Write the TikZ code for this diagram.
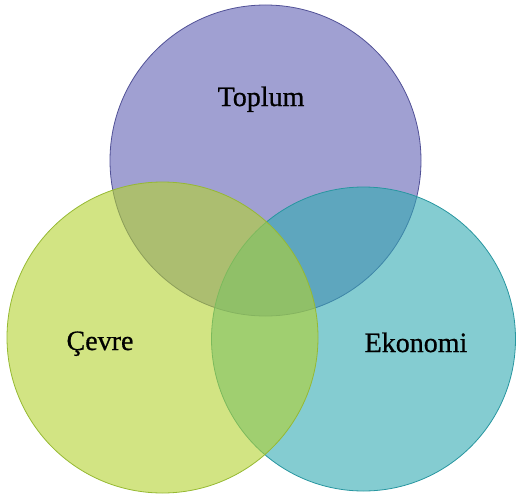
\documentclass[tikz,border=0pt]{standalone}
\usepackage{fontspec}
\setmainfont{Liberation Serif}
\newfontfamily\vennfont[FakeBold=0.7]{Liberation Serif}
\definecolor{toplumfill}{RGB}{97,97,180}
\definecolor{toplumline}{RGB}{80,80,150}
\definecolor{cevrefill}{RGB}{180,210,48}
\definecolor{cevreline}{RGB}{150,185,50}
\definecolor{ekonomifill}{RGB}{50,170,178}
\definecolor{ekonomiline}{RGB}{40,150,160}
\tikzset{
  venn/.style={circle, inner sep=0pt, line width=0.8pt, fill opacity=0.6},
  lbl/.style={anchor=base, font=\vennfont\fontsize{28}{30}\selectfont, text=black}
}
\begin{document}
\begin{tikzpicture}
\useasboundingbox (0,0) rectangle (516pt,-495pt);
% the three sets
\node [venn, minimum size=311pt, fill=toplumfill, draw=toplumline] (ctop) at (265.5pt,-160.5pt) {};
\node [venn, minimum size=304pt, fill=ekonomifill, draw=ekonomiline] (cright) at (363.5pt,-339pt) {};
\node [venn, minimum size=311pt, fill=cevrefill, draw=cevreline] (cleft) at (162.5pt,-337.5pt) {};
% labels
\node [lbl] (toplum) at (261pt,-106pt) {Toplum};
\node [lbl] (cevre) at (100pt,-350pt) {Çevre};
\node [lbl] (ekonomi) at (416pt,-352pt) {Ekonomi};
\end{tikzpicture}
\end{document}
